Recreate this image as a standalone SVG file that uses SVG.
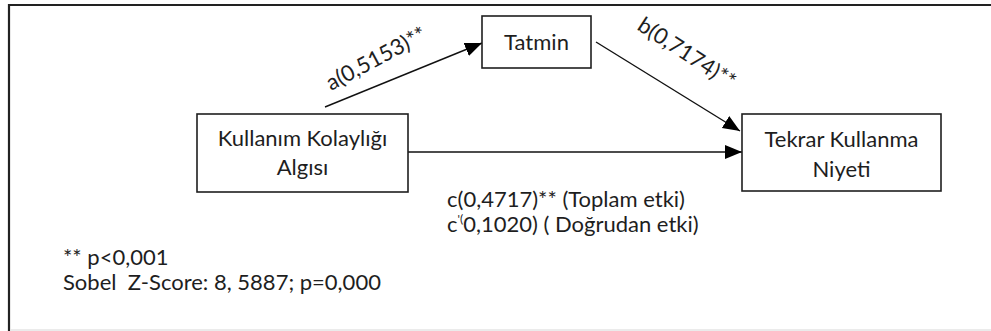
<svg xmlns="http://www.w3.org/2000/svg" width="991" height="331" viewBox="0 0 991 331">
<style>
text{font-family:Lato,"Liberation Sans",sans-serif;font-size:22px;fill:#1e1e1e}
.box{fill:#fff;stroke:#1e1e1e;stroke-width:1.6}
.conn{stroke:#111;stroke-width:1.4;fill:none;marker-end:url(#ah)}
.mid{text-anchor:middle}
</style>
<defs>
<marker id="ah" markerUnits="userSpaceOnUse" markerWidth="18" markerHeight="16" refX="17" refY="7" orient="auto">
<path d="M0,0 L17,7 L0,14 Z" fill="#000"/>
</marker>
</defs>
<rect width="991" height="331" fill="#fff"/>
<g id="frame">
<line x1="9" y1="5" x2="991" y2="5" stroke="#222" stroke-width="2.2"/>
<line x1="9" y1="4" x2="9" y2="331" stroke="#222" stroke-width="2.2"/>
<line x1="10" y1="330" x2="991" y2="330" stroke="#e4e4e4" stroke-width="1.5"/>
</g>
<g id="connectors">
<line class="conn" x1="325" y1="107" x2="482" y2="43"/>
<line class="conn" x1="596" y1="42" x2="740" y2="131"/>
<line class="conn" x1="408" y1="152" x2="742" y2="152"/>
</g>
<g id="node-tatmin">
<rect class="box" x="482" y="16" width="109" height="52"/>
<text class="mid" x="536.5" y="50">Tatmin</text>
</g>
<g id="node-kka">
<rect class="box" x="197" y="114" width="211" height="78"/>
<text class="mid" x="302.5" y="146">Kullanım Kolaylığı</text>
<text class="mid" x="302.5" y="175">Algısı</text>
</g>
<g id="node-tkn">
<rect class="box" x="742" y="114" width="199" height="77"/>
<text class="mid" x="841.5" y="147">Tekrar Kullanma</text>
<text class="mid" x="841.5" y="177">Niyeti</text>
</g>
<g id="labels">
<text transform="translate(331,91) rotate(-28)">a(0,5153)**</text>
<text transform="translate(636,29) rotate(33)">b(0,7174)**</text>
<text x="447" y="207">c(0,4717)** (Toplam etki)</text>
<text x="447" y="232">c<tspan font-size="12" dy="-9">'(</tspan><tspan dy="9">0,1020) ( Doğrudan etki)</tspan></text>
<text x="63" y="265">** p&lt;0,001</text>
<text x="63" y="290">Sobel&#160; Z-Score: 8, 5887; p=0,000</text>
</g>
</svg>
